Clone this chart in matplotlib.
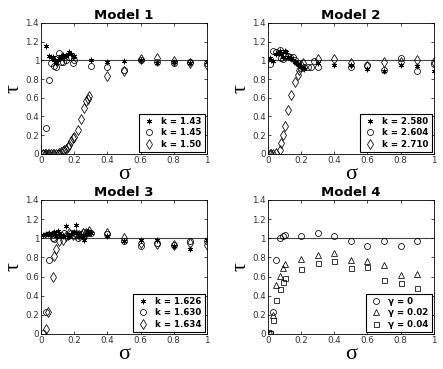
import numpy as np
import matplotlib.pyplot as plt
from matplotlib.ticker import FuncFormatter

# Model 1
m1_star_x = [0.03, 0.05, 0.06, 0.07, 0.08, 0.09, 0.10, 0.11, 0.12, 0.13, 0.14, 0.15, 0.16, 0.17, 0.18, 0.19, 0.20,
             0.3, 0.4, 0.5, 0.6, 0.7, 0.8, 0.9, 1.0]
m1_star_y = [1.15, 1.05, 1.04, 1.03, 1.00, 0.97, 1.00, 1.02, 1.05, 1.06, 1.04, 1.05, 1.07, 1.09, 1.07, 1.04, 1.05,
             1.00, 0.98, 0.99, 1.00, 0.97, 0.98, 0.97, 0.98]
m1_circ_x = [0.01, 0.03, 0.05, 0.06, 0.08, 0.09, 0.10, 0.11, 0.12, 0.13, 0.15, 0.17, 0.19, 0.20,
             0.3, 0.4, 0.5, 0.6, 0.7, 0.8, 0.9, 1.0]
m1_circ_y = [0.01, 0.28, 0.79, 0.97, 0.94, 0.93, 1.02, 1.08, 0.98, 0.98, 1.00, 1.03, 0.97, 1.00,
             0.94, 0.93, 0.90, 1.00, 0.98, 0.97, 0.98, 0.97]
m1_diam_x = [0.01, 0.02, 0.03, 0.04, 0.05, 0.06, 0.07, 0.08, 0.09, 0.10, 0.11, 0.12, 0.13, 0.14, 0.15, 0.16, 0.17,
             0.18, 0.19, 0.20, 0.22, 0.24, 0.26, 0.27, 0.28, 0.29, 0.4, 0.5, 0.6, 0.7, 0.8, 0.9, 1.0]
m1_diam_y = [0.0, 0.0, 0.0, 0.0, 0.0, 0.0, 0.0, 0.0, 0.0, 0.0, 0.01, 0.02, 0.03, 0.04, 0.05, 0.07, 0.10,
             0.14, 0.17, 0.18, 0.26, 0.37, 0.49, 0.57, 0.59, 0.62, 0.83, 0.89, 1.01, 1.02, 0.99, 0.97, 0.95]

# Model 2
m2_star_x = [0.01, 0.02, 0.03, 0.05, 0.06, 0.07, 0.08, 0.09, 0.10, 0.11, 0.12, 0.13, 0.14, 0.15, 0.16, 0.17, 0.18,
             0.19, 0.20, 0.21, 0.22, 0.3, 0.4, 0.5, 0.6, 0.7, 0.8, 0.9, 1.0]
m2_star_y = [1.02, 1.00, 0.99, 1.07, 1.08, 1.10, 1.07, 1.03, 1.10, 1.09, 1.03, 1.02, 1.02, 1.00, 0.98, 0.97, 0.96,
             0.95, 0.93, 0.92, 0.91, 0.97, 0.95, 0.95, 0.91, 0.89, 0.95, 0.94, 0.89]
m2_circ_x = [0.01, 0.03, 0.05, 0.07, 0.08, 0.09, 0.10, 0.12, 0.13, 0.15, 0.16, 0.18, 0.20, 0.22, 0.24, 0.26, 0.28,
             0.3, 0.5, 0.6, 0.7, 0.8, 0.9, 1.0]
m2_circ_y = [0.96, 1.10, 1.09, 1.11, 1.02, 1.01, 1.05, 1.05, 1.03, 1.04, 1.00, 0.97, 0.92, 0.93, 0.93, 0.93, 0.99,
             0.93, 0.93, 0.95, 0.90, 1.02, 0.89, 0.96]
m2_diam_x = [0.01, 0.02, 0.03, 0.05, 0.07, 0.08, 0.09, 0.10, 0.12, 0.14, 0.16, 0.18, 0.19, 0.20, 0.21,
             0.3, 0.4, 0.5, 0.6, 0.7, 0.8, 0.9, 1.0]
m2_diam_y = [0.0, 0.0, 0.0, 0.01, 0.04, 0.12, 0.20, 0.30, 0.47, 0.63, 0.77, 0.84, 0.90, 0.95, 0.97,
             1.01, 1.01, 0.97, 0.94, 0.98, 0.98, 1.00, 0.98]

# Model 3
m3_star_x = [0.01, 0.02, 0.03, 0.04, 0.05, 0.06, 0.07, 0.08, 0.09, 0.10, 0.11, 0.12, 0.13, 0.15, 0.16, 0.17, 0.18,
             0.19, 0.20, 0.21, 0.22, 0.23, 0.24, 0.25, 0.26, 0.27, 0.28, 0.29, 0.30,
             0.4, 0.5, 0.6, 0.7, 0.8, 0.9, 1.0]
m3_star_y = [1.03, 1.03, 1.04, 1.04, 1.05, 1.03, 1.05, 1.07, 1.02, 1.08, 1.05, 1.03, 1.02, 1.13, 1.01, 1.02, 1.04,
             1.05, 1.07, 1.14, 1.06, 1.02, 1.03, 1.01, 0.98, 1.04, 1.08, 1.07, 1.06,
             1.02, 0.97, 0.98, 0.98, 0.92, 0.89, 0.98]
m3_circ_x = [0.01, 0.03, 0.05, 0.07, 0.08, 0.10, 0.12, 0.14, 0.16, 0.18, 0.20, 0.22, 0.24, 0.26, 0.28, 0.30,
             0.4, 0.5, 0.6, 0.7, 0.8, 0.9, 1.0]
m3_circ_y = [0.01, 0.23, 0.77, 1.00, 0.99, 1.03, 1.03, 1.05, 1.02, 1.06, 1.03, 1.00, 1.04, 1.07, 1.06, 1.05,
             1.04, 0.97, 0.92, 0.95, 0.93, 0.97, 0.97]
m3_diam_x = [0.03, 0.04, 0.07, 0.08, 0.09, 0.11, 0.13, 0.15, 0.17, 0.19, 0.21, 0.23, 0.25, 0.27, 0.29,
             0.4, 0.5, 0.6, 0.7, 0.8, 0.9, 1.0]
m3_diam_y = [0.05, 0.23, 0.59, 0.81, 0.89, 0.97, 0.98, 1.02, 1.05, 1.03, 1.04, 1.03, 1.06, 1.06, 1.08,
             1.05, 1.00, 0.95, 0.94, 0.93, 0.95, 0.93]

# Model 4
m4_x = [0.01, 0.03, 0.05, 0.07, 0.09, 0.10, 0.2, 0.3, 0.4, 0.5, 0.6, 0.7, 0.8, 0.9]
m4_g0 = [0.01, 0.23, 0.77, 1.00, 1.02, 1.03, 1.02, 1.05, 1.02, 0.97, 0.92, 0.97, 0.92, 0.97]
m4_g002 = [0.01, 0.20, 0.51, 0.61, 0.69, 0.73, 0.78, 0.83, 0.85, 0.77, 0.76, 0.72, 0.62, 0.63]
m4_g004 = [0.01, 0.15, 0.35, 0.47, 0.54, 0.58, 0.68, 0.74, 0.76, 0.69, 0.70, 0.56, 0.53, 0.48]

k1 = ['k = 1.43', 'k = 1.45', 'k = 1.50']
k2 = ['k = 2.580', 'k = 2.604', 'k = 2.710']
k3 = ['k = 1.626', 'k = 1.630', 'k = 1.634']
g4 = ['\u03b3 = 0', '\u03b3 = 0.02', '\u03b3 = 0.04']

fig = plt.figure(figsize=(4.43, 3.69), dpi=100)
positions = [
    [0.093, 0.583, 0.374, 0.355],
    [0.605, 0.583, 0.374, 0.355],
    [0.093, 0.095, 0.374, 0.363],
    [0.605, 0.095, 0.374, 0.363],
]
asterisk = (6, 2, 0)
mk = dict(ls='none', color='black', mfc='none', mew=0.55)

panels = [
    ('Model 1', [(m1_star_x, m1_star_y, asterisk, 4), (m1_circ_x, m1_circ_y, 'o', 4.3), (m1_diam_x, m1_diam_y, 'd', 5.2)], k1),
    ('Model 2', [(m2_star_x, m2_star_y, asterisk, 4), (m2_circ_x, m2_circ_y, 'o', 4.3), (m2_diam_x, m2_diam_y, 'd', 5.2)], k2),
    ('Model 3', [(m3_star_x, m3_star_y, asterisk, 4), (m3_circ_x, m3_circ_y, 'o', 4.3), (m3_diam_x, m3_diam_y, 'd', 5.2)], k3),
    ('Model 4', [(m4_x, m4_g0, 'o', 4.3), (m4_x, m4_g002, '^', 4.5), (m4_x, m4_g004, 's', 3.6)], g4),
]

fmt = FuncFormatter(lambda v, p: '%g' % round(v, 2))

for pos, (title, series, labels) in zip(positions, panels):
    ax = fig.add_axes(pos)
    ax.axhline(1, color='#444444', lw=0.8, zorder=1)
    for (x, y, m, s), lab in zip(series, labels):
        ax.plot(x, y, marker=m, ms=s, label=lab, **mk)
    ax.set_xlim(0, 1)
    ax.set_ylim(0, 1.4)
    ax.set_xticks([0, 0.2, 0.4, 0.6, 0.8, 1])
    ax.set_yticks([0, 0.2, 0.4, 0.6, 0.8, 1, 1.2, 1.4])
    ax.xaxis.set_major_formatter(fmt)
    ax.yaxis.set_major_formatter(fmt)
    ax.tick_params(direction='in', top=True, right=True, labelsize=6.3, length=2.5, width=0.5, pad=1.5,
                   labelcolor='#333333')
    for sp in ax.spines.values():
        sp.set_linewidth(0.6)
    ax.set_title(title, fontsize=9.5, fontweight='bold', pad=3)
    ax.set_xlabel('\u03c3', fontsize=16, family='Liberation Serif', labelpad=0)
    ax.set_ylabel('\u03c4', fontsize=16, family='Liberation Serif', labelpad=1)
    leg = ax.legend(loc='lower right', prop={'weight': 'bold', 'size': 6.2},
                    fancybox=False, edgecolor='black', framealpha=1, borderpad=0.35,
                    handletextpad=0.7, handlelength=1.5, labelspacing=0.3, borderaxespad=0.25)
    leg.get_frame().set_linewidth(0.8)

fig.savefig('out.png', dpi=100)
